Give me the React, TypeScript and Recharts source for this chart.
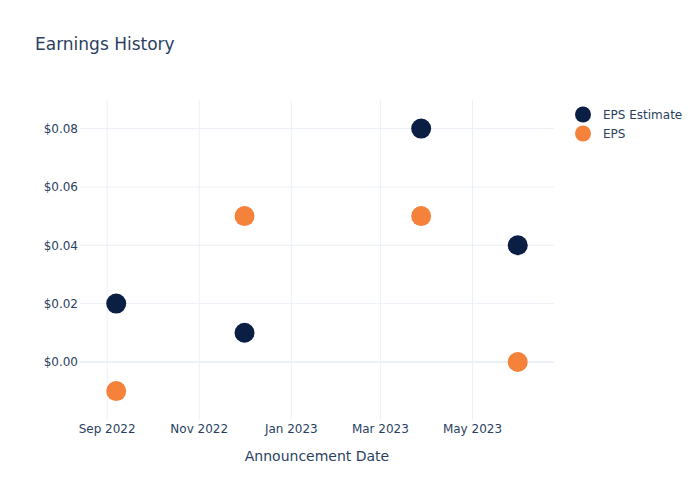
import React from "react";
import {
  ScatterChart,
  Scatter,
  XAxis,
  YAxis,
  ReferenceLine,
} from "recharts";

const dates = ["2022-09-07", "2022-12-01", "2023-03-28", "2023-05-31"];
const epsEstimate = [0.02, 0.01, 0.08, 0.04];
const eps = [-0.01, 0.05, 0.05, 0.0];
const xTickDates = ["2022-09-01", "2022-11-01", "2023-01-01", "2023-03-01", "2023-05-01"];
const yTicks = [0, 0.02, 0.04, 0.06, 0.08];

const NAVY = "#0b1f44";
const ORANGE = "#f5823a";
const TEXT = "#2a3f5f";
const GRID = "#ebf0f8";
const FONT = "DejaVu Sans, sans-serif";

const ts = (d: string) => new Date(d + "T00:00:00Z").getTime();
const monthNames = ["Jan", "Feb", "Mar", "Apr", "May", "Jun", "Jul", "Aug", "Sep", "Oct", "Nov", "Dec"];

const estimateData = dates.map((d, i) => ({ date: ts(d), value: epsEstimate[i] }));
const epsData = dates.map((d, i) => ({ date: ts(d), value: eps[i] }));

const dot = (color: string) => (props: any) =>
  <circle cx={props.cx} cy={props.cy} r={10} fill={color} />;

function LegendBox() {
  const items = [
    { name: "EPS Estimate", color: NAVY },
    { name: "EPS", color: ORANGE },
  ];
  return (
    <div
      style={{
        position: "absolute",
        left: 573,
        top: 105,
        fontFamily: FONT,
        fontSize: 12,
        color: TEXT,
      }}
    >
      {items.map((it) => (
        <div key={it.name} style={{ display: "flex", alignItems: "center", height: 19 }}>
          <svg width={30} height={19}>
            <circle cx={10} cy={9.5} r={8} fill={it.color} />
          </svg>
          <span>{it.name}</span>
        </div>
      ))}
    </div>
  );
}

export default function App() {
  return (
    <div style={{ position: "absolute", left: 0, top: 0, width: 700, height: 500, background: "#fff" }}>
      <ScatterChart
        width={700}
        height={500}
        margin={{ top: 100, right: 146, left: 0, bottom: 0 }}
      >
        <XAxis
          type="number"
          dataKey="date"
          domain={[ts("2022-08-14"), ts("2023-06-24")]}
          ticks={xTickDates.map(ts)}
          tickFormatter={(v: number) => {
            const d = new Date(v);
            return monthNames[d.getUTCMonth()] + " " + d.getUTCFullYear();
          }}
          axisLine={false}
          tickLine={false}
          tickSize={0}
          tickMargin={4}
          height={80}
          tick={{ fill: TEXT, fontSize: 12, fontFamily: FONT }}
          allowDataOverflow
          label={{
            value: "Announcement Date",
            position: "insideBottom",
            offset: 39,
            fill: TEXT,
            fontSize: 14,
            fontFamily: FONT,
          }}
        />
        <YAxis
          type="number"
          dataKey="value"
          domain={[-0.0199, 0.0898]}
          ticks={yTicks}
          tickFormatter={(v: number) => "$" + v.toFixed(2)}
          axisLine={false}
          tickLine={false}
          tickSize={0}
          tickMargin={2}
          width={80}
          tick={{ fill: TEXT, fontSize: 12, fontFamily: FONT }}
          allowDataOverflow
        />
        {xTickDates.map((d) => (
          <ReferenceLine key={d} x={ts(d)} stroke={GRID} strokeWidth={1} />
        ))}
        {yTicks.map((v) => (
          <ReferenceLine key={v} y={v} stroke={GRID} strokeWidth={v === 0 ? 2 : 1} />
        ))}
        <Scatter
          name="EPS Estimate"
          data={estimateData}
          fill={NAVY}
          shape={dot(NAVY)}
          isAnimationActive={false}
        />
        <Scatter
          name="EPS"
          data={epsData}
          fill={ORANGE}
          shape={dot(ORANGE)}
          isAnimationActive={false}
        />
      </ScatterChart>
      <div
        style={{
          position: "absolute",
          left: 35,
          top: 34,
          fontFamily: FONT,
          fontSize: 17,
          color: TEXT,
        }}
      >
        Earnings History
      </div>
      <LegendBox />
    </div>
  );
}
